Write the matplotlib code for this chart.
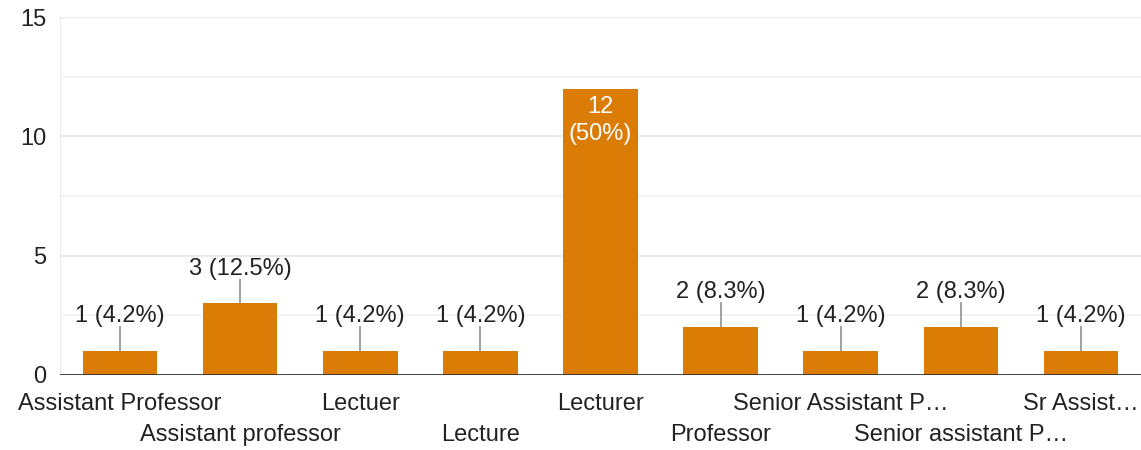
import numpy as np
import matplotlib.pyplot as plt

# Responses by designation
categories = ['Assistant Professor', 'Assistant professor', 'Lectuer', 'Lecture',
              'Lecturer', 'Professor', 'Senior Assistant P…', 'Senior assistant P…',
              'Sr Assist…']
counts = [1, 3, 1, 1, 12, 2, 1, 2, 1]
percents = ['4.2%', '12.5%', '4.2%', '4.2%', '50%', '8.3%', '4.2%', '8.3%', '4.2%']

plt.rcParams['font.family'] = ['Liberation Sans', 'DejaVu Sans']

BAR = '#db7c06'
TXT = '#222222'
FS = 17

fig = plt.figure(figsize=(11.41, 4.5), dpi=100)
ax = fig.add_axes([0.0526, 0.1667, 0.9474, 0.7953])

x = np.arange(len(categories))
ax.bar(x, counts, width=0.62, color=BAR, zorder=3)

ax.set_xlim(-0.5, len(categories) - 0.5)
ax.set_ylim(0, 15)

# gridlines: major every 5, minor every 2.5
for y in [2.5, 7.5, 12.5]:
    ax.axhline(y, color='#f4f4f4', linewidth=1.6, zorder=1)
for y in [5, 10, 15]:
    ax.axhline(y, color='#ebebeb', linewidth=1.6, zorder=1)
ax.axhline(0, color='#333333', linewidth=2, zorder=4)
ax.axvline(-0.5, color='#ebebeb', linewidth=1.6, zorder=1)

for s in ax.spines.values():
    s.set_visible(False)

ax.set_yticks([0, 5, 10, 15])
ax.tick_params(axis='y', length=0, labelsize=FS, labelcolor=TXT, pad=10)
ax.set_xticks([])

# alternating two-row category labels
for i, name in enumerate(categories):
    yoff = -0.08 if i % 2 == 0 else -0.168
    ax.text(i, yoff, name, transform=ax.get_xaxis_transform(),
            ha='center', va='center', fontsize=FS, color=TXT)

# value labels
for i, (c, p) in enumerate(zip(counts, percents)):
    if c >= 10:
        ax.text(i, c - 0.3, f'{c}\n({p})', ha='center', va='top',
                fontsize=FS, color='white', zorder=5, linespacing=1.3)
    else:
        ax.plot([i, i], [c, c + 1], color='#999999', linewidth=1.3, zorder=2)
        ax.text(i, c + 1.0, f'{c} ({p})', ha='center', va='bottom',
                fontsize=FS, color=TXT, zorder=5)

fig.savefig('out.png', dpi=100)
